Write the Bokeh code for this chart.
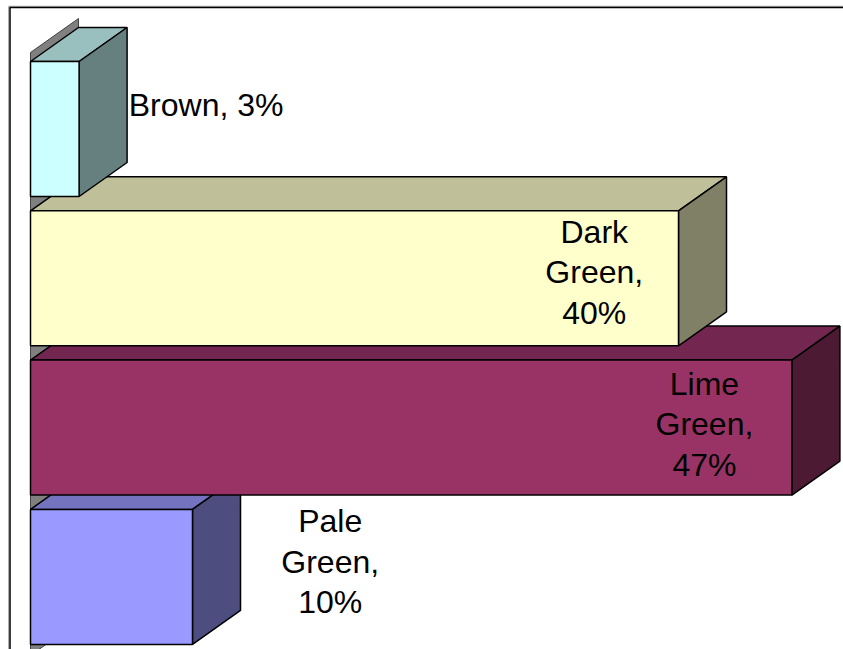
from bokeh.plotting import figure
from bokeh.models import Range1d, ColumnDataSource
from bokeh.core.properties import value
from bokeh.embed import file_html
from bokeh.resources import INLINE

# ---- data ----
categories = ["Brown", "Dark Green", "Lime Green", "Pale Green"]
percent = [3, 40, 47, 10]
label_text = ["Brown, 3%", "Dark\nGreen,\n40%", "Lime\nGreen,\n47%", "Pale\nGreen,\n10%"]
front_colors = ["#CCFFFF", "#FFFFCC", "#993366", "#9999FF"]
top_colors = ["#99BFBF", "#BFBF99", "#732650", "#7373BF"]
side_colors = ["#668080", "#808066", "#4D1A33", "#4D4D80"]

# ---- layout constants (pixel geometry of the reference) ----
W, H = 843, 649
PX0 = 30.0      # image x of the value 0
PXU = 16.2      # pixels per percent
PY0 = 128.5     # image y of first category center
PYU = 149.3     # pixels per category step
half = 67.5 / PYU
dx = 48.0 / PXU
dy = 34.0 / PYU

x_start = (0 - PX0) / PXU
x_end = (W - PX0) / PXU
y_top = (0 - PY0) / PYU
y_bot = (H - PY0) / PYU

def xp(px):
    return (px - PX0) / PXU

def yp(py):
    return (py - PY0) / PYU

p = figure(width=W, height=H, output_backend="svg", toolbar_location=None,
           x_range=Range1d(x_start, x_end), y_range=Range1d(y_bot, y_top),
           min_border=0, outline_line_color=None)
p.axis.visible = False
p.grid.visible = False
p.background_fill_color = "white"
p.border_fill_color = "white"

# frame lines (top and left) with light shadow
p.line([xp(8.2), xp(8.2)], [yp(6), y_bot], line_color="#999999", line_width=1)
p.line([xp(8.2), x_end], [yp(5.8), yp(5.8)], line_color="#999999", line_width=1)
p.line([xp(9.5), xp(9.5)], [yp(7), y_bot], line_color="black", line_width=1.5)
p.line([xp(9), x_end], [yp(7), yp(7)], line_color="black", line_width=1.5)

# side wall (gray)
ys = list(range(len(categories)))
wall_top = -half - 9 / PYU
wall_bot = ys[-1] + half + 11 / PYU
p.patch([0, 0, dx, dx], [wall_top, wall_bot, wall_bot - dy, wall_top - dy],
        fill_color="#808080", line_color="#404040", line_width=1)

# 3D bars, drawn from bottom to top so upper bars overlap lower top faces
for i in reversed(ys):
    v = percent[i]
    yc = ys[i]
    t, b = yc - half, yc + half
    # top face
    p.patch([0, v, v + dx, dx], [t, t, t - dy, t - dy],
            fill_color=top_colors[i], line_color="black", line_width=1.5)
    # side face
    p.patch([v, v, v + dx, v + dx], [t, b, b - dy, t - dy],
            fill_color=side_colors[i], line_color="black", line_width=1.5)
    # front face
    p.quad(left=[0], right=[v], top=[t], bottom=[b],
           fill_color=front_colors[i], line_color="black", line_width=1.5)

# labels
lx_off = [dx + 0.1, -5.2, -5.4, 8.5]
ly_off = [-0.164, -0.039, -0.021, -0.103]
lx = [percent[i] + lx_off[i] for i in ys]
ly = [ys[i] + ly_off[i] for i in ys]

left_src = ColumnDataSource(dict(x=[lx[0]], y=[ly[0]], t=[label_text[0]]))
ctr_src = ColumnDataSource(dict(x=lx[1:], y=ly[1:], t=label_text[1:]))
common = dict(text="t", text_font=value("Liberation Sans"), text_font_size="32px",
              text_color="black", text_baseline="middle", text_line_height=1.13)
p.text(x="x", y="y", source=left_src, text_align="left", **common)
p.text(x="x", y="y", source=ctr_src, text_align="center", **common)

open("out.html", "w").write(file_html(p, INLINE))
